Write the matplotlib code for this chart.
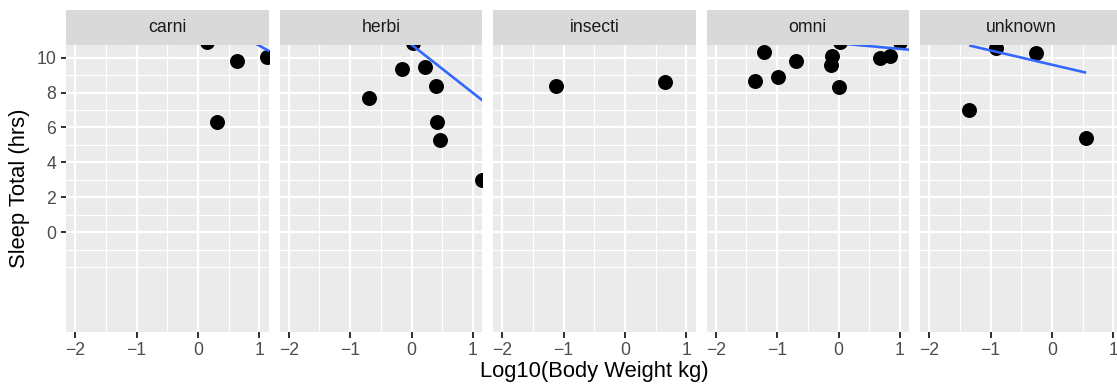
import matplotlib
matplotlib.use('Agg')
import matplotlib.pyplot as plt
import numpy as np

plt.rcParams['font.family'] = ['Liberation Sans', 'DejaVu Sans']

# ---- data ----
facets = ['carni', 'herbi', 'insecti', 'omni', 'unknown']

carni_x = [0.14, 0.31, 0.63, 1.13]
carni_y = [10.9, 6.3, 9.8, 10.06]

herbi_x = [0.03, -0.15, 0.22, 0.39, -0.69, 0.41, 0.46, 1.14]
herbi_y = [10.86, 9.37, 9.49, 8.38, 7.71, 6.3, 5.31, 2.98]

insecti_x = [-1.12, 0.647]
insecti_y = [8.4, 8.6]

omni_x = [-1.22, -1.36, -0.99, -0.69, -0.11, -0.13, 0.0, 0.03, 0.67, 0.84, 1.0]
omni_y = [10.31, 8.68, 8.9, 9.79, 10.11, 9.6, 8.3, 10.9, 10.0, 10.1, 10.9]

unknown_x = [-1.35, -0.91, -0.256, 0.555]
unknown_y = [7.0, 10.57, 10.3, 5.4]

# linear fit per facet (intercept, slope, x-range); None = not visible
fit_intercept = [12.63, 10.75, None, 10.83, 9.6]
fit_slope = [-1.94, -2.77, None, -0.32, -0.82]
fit_xmin = [-1.0, -1.5, None, -1.5, -1.35]
fit_xmax = [2.5, 2.5, None, 2.5, 0.555]

x_ticks = [-2, -1, 0, 1]
y_ticks = [0, 2, 4, 6, 8, 10]
x_title = 'Log10(Body Weight kg)'
y_title = 'Sleep Total (hrs)'

series_x = [carni_x, herbi_x, insecti_x, omni_x, unknown_x]
series_y = [carni_y, herbi_y, insecti_y, omni_y, unknown_y]

# ---- layout ----
W, H = 1117, 385
DPI = 144
fig = plt.figure(figsize=(W / DPI, H / DPI), dpi=DPI)

panel_left0 = 66.0
panel_w = 202.7
panel_step = 213.5
panel_top = 44.7
panel_bot = 332.3
strip_top = 10.0

XLIM = (-2.15, 1.15)
YLIM = (-5.75, 10.75)

bg = '#EBEBEB'
strip_bg = '#D9D9D9'

for i, name in enumerate(facets):
    left = panel_left0 + i * panel_step
    ax = fig.add_axes([left / W, 1 - panel_bot / H, panel_w / W, (panel_bot - panel_top) / H])
    ax.set_facecolor(bg)
    ax.set_xlim(*XLIM)
    ax.set_ylim(*YLIM)
    for s in ax.spines.values():
        s.set_visible(False)

    # grid
    for xv in [-1.5, -0.5, 0.5]:
        ax.axvline(xv, color='white', lw=0.55, zorder=0.5)
    for xv in x_ticks:
        ax.axvline(xv, color='white', lw=1.1, zorder=0.6)
    for yv in [-2, -1, 1, 3, 5, 7, 9]:
        ax.axhline(yv, color='white', lw=0.55, zorder=0.5)
    for yv in y_ticks:
        ax.axhline(yv, color='white', lw=1.1, zorder=0.6)

    ax.scatter(series_x[i], series_y[i], s=56, color='black', zorder=3, linewidths=0)

    if fit_intercept[i] is not None:
        xs = np.array([fit_xmin[i], fit_xmax[i]])
        ys = fit_intercept[i] + fit_slope[i] * xs
        ax.plot(xs, ys, color='#3366FF', lw=1.3, zorder=4, solid_capstyle='butt')

    ax.set_xticks(x_ticks)
    ax.set_xticklabels(['\u22122', '\u22121', '0', '1'])
    ax.set_yticks(y_ticks)
    ax.tick_params(axis='both', colors='#333333', length=2.75, width=1.0,
                   labelcolor='#4D4D4D', labelsize=8.8, pad=2.2)
    if i == 0:
        ax.set_yticklabels([str(v) for v in y_ticks])
    else:
        ax.tick_params(axis='y', left=False, labelleft=False)

    # strip
    sax = fig.add_axes([left / W, 1 - panel_top / H, panel_w / W, (panel_top - strip_top) / H])
    sax.set_facecolor(strip_bg)
    sax.set_xticks([])
    sax.set_yticks([])
    for s in sax.spines.values():
        s.set_visible(False)
    sax.text(0.5, 0.5, name, ha='center', va='center', fontsize=8.8, color='#1A1A1A',
             transform=sax.transAxes)

fig.text((panel_left0 + 2 * panel_step + panel_w / 2) / W, 1 - 372 / H, x_title,
         ha='center', va='center', fontsize=11, color='black')
fig.text(20 / W, 1 - 188.5 / H, y_title, ha='center', va='center', rotation=90,
         fontsize=11, color='black')

fig.savefig('out.png', dpi=DPI, facecolor='white')
